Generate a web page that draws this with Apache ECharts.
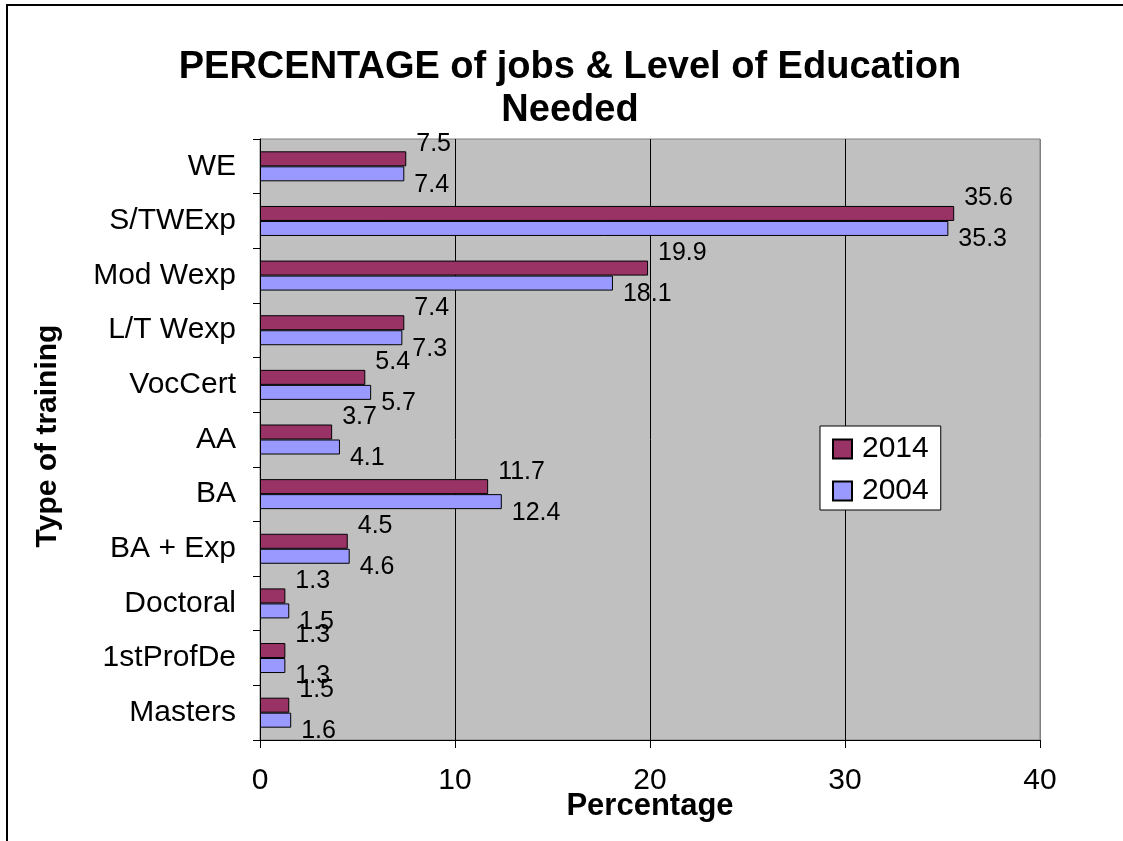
<!DOCTYPE html>
<html>
<head>
<meta charset="utf-8">
<script src="https://cdn.jsdelivr.net/npm/echarts@6/dist/echarts.min.js"></script>
<style>
html,body{margin:0;padding:0;background:#fff;}
#chart{width:1123px;height:841px;}
</style>
</head>
<body>
<div id="chart"></div>
<script>
const categories = ['WE','S/TWExp','Mod Wexp','L/T Wexp','VocCert','AA','BA','BA + Exp','Doctoral','1stProfDe','Masters'];
const values2014 = [7.5, 35.6, 19.9, 7.4, 5.4, 3.7, 11.7, 4.5, 1.3, 1.3, 1.5];
const values2004 = [7.4, 35.3, 18.1, 7.3, 5.7, 4.1, 12.4, 4.6, 1.5, 1.3, 1.6];
const xTicks = [0, 10, 20, 30, 40];
const seriesNames = ['2014', '2004'];
const titleLines = ['PERCENTAGE of jobs & Level of Education', 'Needed'];
const xAxisName = 'Percentage';
const yAxisName = 'Type of training';

const FONT = "'Liberation Sans', Arial, sans-serif";
const chart = echarts.init(document.getElementById('chart'), null, {renderer: 'canvas'});

const labelCommon = {
  show: true, position: 'right', distance: 10,
  fontFamily: FONT, fontSize: 25, color: '#000'
};

chart.setOption({
  animation: false,
  backgroundColor: '#fff',
  textStyle: {fontFamily: FONT},
  grid: {
    left: 260, right: 83, top: 139, bottom: 101,
    show: true, backgroundColor: '#C0C0C0', borderColor: '#808080', borderWidth: 1,
    containLabel: false
  },
  legend: {
    orient: 'vertical', left: 820, top: 426,
    backgroundColor: '#fff', borderColor: '#000', borderWidth: 1,
    padding: [8, 12, 4, 12], itemGap: 12,
    itemWidth: 19, itemHeight: 19, icon: 'rect',
    textStyle: {fontFamily: FONT, fontSize: 30, color: '#000', padding: [0, 0, 0, 5]},
    data: seriesNames
  },
  xAxis: {
    type: 'value', min: xTicks[0], max: xTicks[xTicks.length - 1], interval: 10,
    axisLine: {show: true, lineStyle: {color: '#000', width: 1}},
    axisTick: {show: true, length: 8, lineStyle: {color: '#000'}},
    axisLabel: {fontFamily: FONT, fontSize: 30, color: '#000', margin: 26},
    splitLine: {show: true, lineStyle: {color: ['#000', '#000', '#000', '#000', '#808080'], width: 1}}
  },
  yAxis: {
    type: 'category', data: categories, inverse: true,
    axisLine: {show: true, onZero: false, lineStyle: {color: '#000', width: 1}},
    axisTick: {show: true, length: 7, inside: false, alignWithLabel: false, lineStyle: {color: '#000'}},
    axisLabel: {fontFamily: FONT, fontSize: 30, color: '#000', margin: 24},
    splitLine: {show: false}
  },
  series: [
    {
      name: seriesNames[0], type: 'bar', data: values2014,
      barWidth: 15, barGap: '0%',
      itemStyle: {color: '#993366', borderColor: '#000', borderWidth: 1},
      label: Object.assign({}, labelCommon, {offset: [0, -15]})
    },
    {
      name: seriesNames[1], type: 'bar', data: values2004,
      barWidth: 15, barGap: '0%',
      itemStyle: {color: '#9999FF', borderColor: '#000', borderWidth: 1},
      label: Object.assign({}, labelCommon, {offset: [0, 11]})
    }
  ],
  graphic: [
    {type: 'rect', z: 100, silent: true, shape: {x: 7, y: 5, width: 1300, height: 1000},
     style: {fill: 'none', stroke: '#000', lineWidth: 2}},
    {type: 'text', x: 570, y: 68, z: 100,
     style: {text: titleLines[0], align: 'center', verticalAlign: 'middle', font: 'bold 38px ' + FONT, fill: '#000'}},
    {type: 'text', x: 570, y: 111, z: 100,
     style: {text: titleLines[1], align: 'center', verticalAlign: 'middle', font: 'bold 38px ' + FONT, fill: '#000'}},
    {type: 'text', x: 650, y: 806, z: 100,
     style: {text: xAxisName, align: 'center', verticalAlign: 'middle', font: 'bold 31px ' + FONT, fill: '#000'}},
    {type: 'text', x: 48, y: 436, rotation: Math.PI / 2, z: 100,
     style: {text: yAxisName, align: 'center', verticalAlign: 'middle', font: 'bold 30px ' + FONT, fill: '#000'}}
  ]
});
</script>
</body>
</html>
